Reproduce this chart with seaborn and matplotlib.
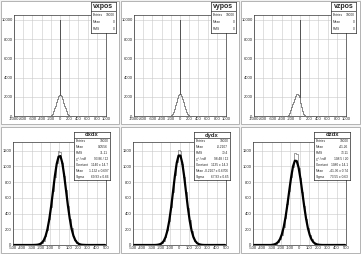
import numpy as np
import pandas as pd
import matplotlib
matplotlib.use('Agg')
import matplotlib.pyplot as plt
import seaborn as sns
from matplotlib.patches import Rectangle
from matplotlib.ticker import MultipleLocator

# ---- data ----
# top row: vertex position histograms (bin width 20), spike at 0
v_titles = ['vxpos', 'vypos', 'vzpos']
vx_centers = [-200, -180, -160, -140, -120, -100, -80, -60, -40, -20, 0,
              20, 40, 60, 80, 100, 120, 140, 160, 180, 200]
vx_counts = [40, 100, 250, 500, 800, 1000, 1500, 1800, 2100, 2200, 10000,
             2200, 2100, 1800, 1400, 1000, 800, 500, 250, 100, 40]
vy_centers = [-200, -180, -160, -140, -120, -100, -80, -60, -40, -20, 0,
              20, 40, 60, 80, 100, 120, 140, 160, 180, 200]
vy_counts = [30, 90, 200, 450, 750, 1100, 1450, 1850, 2150, 2250, 10000,
             2250, 2100, 1800, 1450, 1050, 700, 450, 220, 90, 30]
vz_centers = [-300, -280, -260, -240, -220, -200, -180, -160, -140, -120, -100,
              -80, -60, -40, -20, 0, 20, 40, 60, 80, 100, 120, 140]
vz_counts = [20, 50, 100, 200, 350, 600, 900, 1200, 1500, 1800, 2100,
             2300, 2300, 2200, 2000, 10000, 1300, 900, 500, 250, 100, 40, 10]

# bottom row: slope histograms (bin width 20) with gaussian fit
d_titles = ['dxdx', 'dydx', 'dzdx']
d_centers = [-290, -270, -250, -230, -210, -190, -170, -150, -130, -110,
             -90, -70, -50, -30, -10, 10, 30, 50, 70, 90,
             110, 130, 150, 170, 190, 210, 230, 250, 270, 290]
dx_counts = [0, 1, 3, 6, 10, 31, 55, 118, 192, 331, 487, 690, 869, 1041, 1195,
             1178, 1038, 880, 705, 498, 330, 210, 112, 64, 27, 14, 4, 3, 0, 1]
dx_fit = [0, 1, 2, 5, 12, 28, 58, 112, 199, 326, 492, 683, 876, 1032, 1124,
          1131, 1045, 888, 697, 505, 337, 206, 117, 61, 29, 13, 5, 2, 1, 0]
dy_counts = [0, 0, 2, 3, 11, 20, 52, 97, 188, 301, 482, 668, 884, 1050, 1205,
             1190, 1035, 866, 680, 470, 314, 178, 104, 47, 25, 9, 4, 1, 1, 0]
dy_fit = [0, 0, 1, 4, 10, 23, 50, 100, 183, 308, 476, 674, 875, 1043, 1138,
          1137, 1042, 875, 674, 476, 308, 183, 100, 50, 23, 10, 4, 1, 0, 0]
dz_counts = [3, 8, 19, 36, 77, 131, 230, 349, 520, 686, 870, 990, 1170, 1160,
             980, 850, 668, 502, 336, 220, 125, 72, 33, 18, 6, 3, 1, 0, 0, 0]
dz_fit = [3, 8, 18, 38, 74, 135, 227, 354, 514, 691, 862, 998, 1072, 1068,
          987, 846, 673, 497, 340, 216, 128, 69, 35, 17, 7, 3, 1, 0, 0, 0]
fit_tail_left = [-490, -470, -450, -430, -410, -390, -370, -350, -330, -310]
fit_tail_right = [310, 330, 350, 370, 390, 410, 430, 450, 470, 490]

v_stats = [('Entries', '10000'), ('Mean', '0'), ('RMS', '0')]
d_stats = [
    [('Entries', '10000'), ('Mean', '0.0556'), ('RMS', '71.11'),
     ('\u03c7\u00b2 / ndf', '93.86 / 12'), ('Constant', '1140 \u00b1 14.7'),
     ('Mean', '1.132 \u00b1 0.697'), ('Sigma', '69.93 \u00b1 0.66')],
    [('Entries', '10000'), ('Mean', '-0.2107'), ('RMS', '70.4'),
     ('\u03c7\u00b2 / ndf', '98.48 / 12'), ('Constant', '1135 \u00b1 14.3'),
     ('Mean', '-0.2107 \u00b1 0.6706'), ('Sigma', '67.93 \u00b1 0.65')],
    [('Entries', '10000'), ('Mean', '-41.26'), ('RMS', '73.11'),
     ('\u03c7\u00b2 / ndf', '108.5 / 20'), ('Constant', '1080 \u00b1 14.1'),
     ('Mean', '-41.36 \u00b1 0.74'), ('Sigma', '73.55 \u00b1 0.63')],
]

sns.set_style('white')
plt.rcParams['font.family'] = ['Liberation Sans', 'DejaVu Sans']
plt.rcParams['axes.unicode_minus'] = False

W, H = 361, 254
fig = plt.figure(figsize=(W / 100, H / 100), dpi=100, facecolor='#f2f2f2')


def fig_rect(x, y, w, h):
    # pixel box (top-left origin) -> figure fraction rect
    return [x / W, 1 - (y + h) / H, w / W, h / H]


def pad(x, y, w, h):
    r = fig_rect(x, y, w, h)
    fig.patches.append(Rectangle((r[0], r[1]), r[2], r[3], transform=fig.transFigure,
                                 facecolor='white', edgecolor='#a8a8a8', lw=0.6,
                                 zorder=-10))


def style_axes(ax, xmaj, xmin, ymaj, ymin):
    ax.set_facecolor('none')
    ax.xaxis.set_major_locator(MultipleLocator(xmaj))
    ax.xaxis.set_minor_locator(MultipleLocator(xmin))
    ax.yaxis.set_major_locator(MultipleLocator(ymaj))
    ax.yaxis.set_minor_locator(MultipleLocator(ymin))
    ax.tick_params(which='both', direction='in', labelsize=3, width=0.4, pad=1,
                   top=False, right=False)
    ax.tick_params(which='major', length=2)
    ax.tick_params(which='minor', length=1)
    ax.grid(True, which='major', color='#c8c8c8', lw=0.4)
    for s in ax.spines.values():
        s.set_linewidth(0.5)
        s.set_color('#333333')
    ax.set_xlabel('')
    ax.set_ylabel('')


def stats_box(x, y, w, h, title, rows, title_h, title_size):
    sax = fig.add_axes(fig_rect(x, y, w, h))
    sax.set_xticks([])
    sax.set_yticks([])
    sax.set_xlim(0, 1)
    sax.set_ylim(0, 1)
    for s in sax.spines.values():
        s.set_linewidth(0.5)
    t = title_h / h
    sax.axhline(1 - t, color='black', lw=0.4)
    sax.text(0.5, 1 - t / 2, title, ha='center', va='center', fontsize=title_size,
             fontweight='bold')
    step = (1 - t) / len(rows)
    for i, (k, v) in enumerate(rows):
        yy = 1 - t - step * (i + 0.5)
        sax.text(0.06, yy, k, ha='left', va='center', fontsize=2.3)
        sax.text(0.95, yy, v, ha='right', va='center', fontsize=2.3)


cols = [0, 120, 240]
v_data = [(vx_centers, vx_counts), (vy_centers, vy_counts), (vz_centers, vz_counts)]
d_data = [(dx_counts, dx_fit), (dy_counts, dy_fit), (dz_counts, dz_fit)]

v_edges = list(range(-1010, 1011, 20))
d_edges = list(range(-500, 501, 20))

for c, x0 in enumerate(cols):
    pw = 121 if c == 2 else 120
    # top pad
    pad(x0 + 1, 1, pw - 2, 123)
    ax = fig.add_axes(fig_rect(x0 + 14, 15, 92, 101))
    cx, cy = v_data[c]
    vdf = pd.DataFrame({'pos': cx, 'n': cy})
    sns.histplot(data=vdf, x='pos', weights='n', bins=v_edges, element='step',
                 fill=False, color='#555555', linewidth=0.5, ax=ax)
    ax.set_xlim(-1000, 1000)
    ax.set_ylim(0, 10500)
    style_axes(ax, 200, 50, 2000, 500)
    stats_box(x0 + 91, 2, 25, 31, v_titles[c], v_stats, 9, 5)

    # bottom pad
    pad(x0 + 1, 127, pw - 2, 126)
    ax = fig.add_axes(fig_rect(x0 + 13, 142, 93, 103))
    counts, fit = d_data[c]
    ddf = pd.DataFrame({'slope': d_centers, 'n': counts})
    sns.histplot(data=ddf, x='slope', weights='n', bins=d_edges, element='step',
                 fill=False, color='#777777', linewidth=0.5, ax=ax)
    fdf = pd.DataFrame({'slope': fit_tail_left + d_centers + fit_tail_right,
                        'f': [0] * len(fit_tail_left) + fit + [0] * len(fit_tail_right)})
    sns.lineplot(data=fdf, x='slope', y='f', color='black', linewidth=1.6, ax=ax)
    ax.set_xlim(-500, 500)
    ax.set_ylim(0, 1310)
    style_axes(ax, 100, 25, 200, 50)
    stats_box(x0 + 74, 132, 36, 48, d_titles[c], d_stats[c], 6, 4.2)

fig.savefig('out.png', dpi=100, facecolor=fig.get_facecolor())
